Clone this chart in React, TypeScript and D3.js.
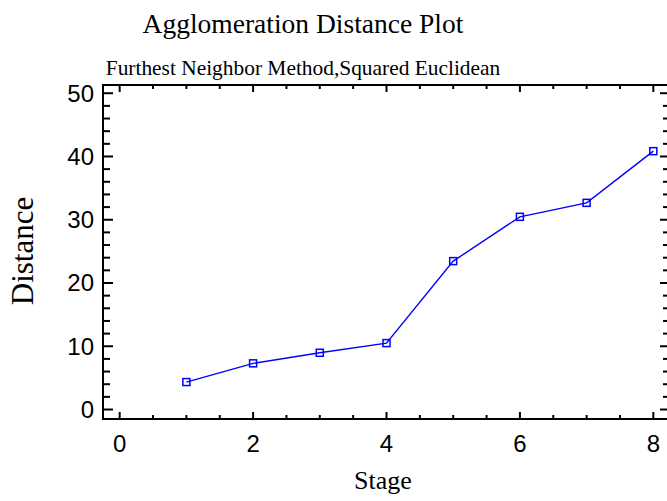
import React, { useEffect, useRef } from 'react';
import * as d3 from 'd3';

const stages = [1, 2, 3, 4, 5, 6, 7, 8];
const distances = [4.34, 7.3, 8.97, 10.5, 23.46, 30.46, 32.67, 40.84];
const xTicks = [0, 2, 4, 6, 8];
const yTicks = [0, 10, 20, 30, 40, 50];

const App = () => {
  const ref = useRef<SVGSVGElement>(null);

  useEffect(() => {
    const svg = d3.select(ref.current);
    svg.selectAll('*').remove();

    const left = 103, right = 670, top = 85, bottom = 419;
    const x = d3.scaleLinear().domain([-0.25, 8.25]).range([left, right]);
    const y = d3.scaleLinear().domain([-1.5, 51.3]).range([bottom, top]);

    svg.append('rect').attr('width', 667).attr('height', 501).attr('fill', 'white');

    svg.append('text')
      .attr('x', 303).attr('y', 33)
      .attr('text-anchor', 'middle')
      .style('font-family', 'Liberation Serif')
      .style('font-size', '27.5px')
      .text('Agglomeration Distance Plot');

    svg.append('text')
      .attr('x', 303).attr('y', 75)
      .attr('text-anchor', 'middle')
      .style('font-family', 'Liberation Serif')
      .style('font-size', '21.4px')
      .text('Furthest Neighbor Method,Squared Euclidean');

    const g = svg.append('g');

    // ticks on all four sides, pointing inward
    const xMinor = d3.range(0, 8.01, 0.5);
    xMinor.forEach((v) => {
      const major = v % 2 === 0;
      const len = major ? 7 : 4;
      g.append('line').attr('x1', x(v)).attr('x2', x(v)).attr('y1', bottom).attr('y2', bottom - len)
        .attr('stroke', 'black').attr('stroke-width', 2);
      g.append('line').attr('x1', x(v)).attr('x2', x(v)).attr('y1', top).attr('y2', top + len)
        .attr('stroke', 'black').attr('stroke-width', 2);
    });
    const yMinor = d3.range(0, 50.01, 2);
    yMinor.forEach((v) => {
      const major = v % 10 === 0;
      const len = major ? 10 : 7;
      g.append('line').attr('x1', left).attr('x2', left + len).attr('y1', y(v)).attr('y2', y(v))
        .attr('stroke', 'black').attr('stroke-width', 2);
      g.append('line').attr('x1', right).attr('x2', right - len).attr('y1', y(v)).attr('y2', y(v))
        .attr('stroke', 'black').attr('stroke-width', 2);
    });

    g.append('rect')
      .attr('x', left).attr('y', top)
      .attr('width', right - left).attr('height', bottom - top)
      .attr('fill', 'none').attr('stroke', 'black').attr('stroke-width', 2);

    xTicks.forEach((v) => {
      g.append('text')
        .attr('x', x(v)).attr('y', 452)
        .attr('text-anchor', 'middle')
        .style('font-family', 'Liberation Sans')
        .style('font-size', '24px')
        .text(v);
    });
    yTicks.forEach((v) => {
      g.append('text')
        .attr('x', 94).attr('y', y(v) + 8.5)
        .attr('text-anchor', 'end')
        .style('font-family', 'Liberation Sans')
        .style('font-size', '24px')
        .text(v);
    });

    svg.append('text')
      .attr('x', 383).attr('y', 489)
      .attr('text-anchor', 'middle')
      .style('font-family', 'Liberation Serif')
      .style('font-size', '26px')
      .text('Stage');

    svg.append('text')
      .attr('transform', 'translate(33,251) rotate(-90)')
      .attr('text-anchor', 'middle')
      .style('font-family', 'Liberation Serif')
      .style('font-size', '31px')
      .text('Distance');

    const pts = stages.map((s, i) => [s, distances[i]] as [number, number]);
    const line = d3.line<[number, number]>().x((d) => x(d[0])).y((d) => y(d[1]));
    g.append('path')
      .attr('d', line(pts))
      .attr('fill', 'none')
      .attr('stroke', '#0000ff')
      .attr('stroke-width', 1.4);

    g.selectAll('rect.pt')
      .data(pts)
      .enter()
      .append('rect')
      .attr('class', 'pt')
      .attr('x', (d) => x(d[0]) - 3.5)
      .attr('y', (d) => y(d[1]) - 3.5)
      .attr('width', 7).attr('height', 7)
      .attr('fill', 'none')
      .attr('stroke', '#0000ff')
      .attr('stroke-width', 1.5);
  }, []);

  return (
    <svg ref={ref} width={667} height={501} style={{ position: 'absolute', left: 0, top: 0 }} />
  );
};

export default App;
